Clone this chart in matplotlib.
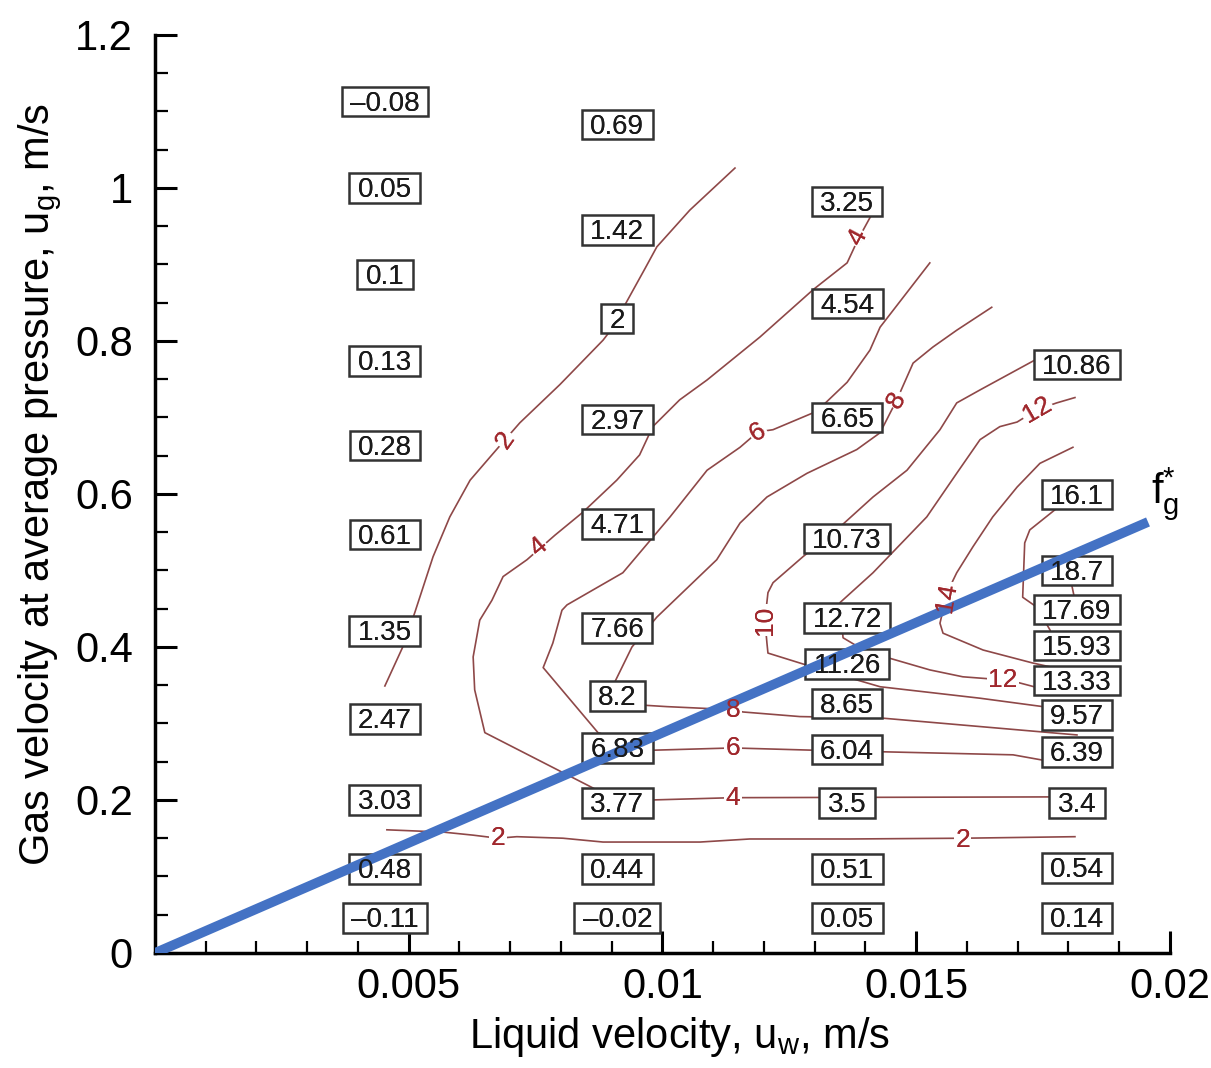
import matplotlib
matplotlib.use("Agg")
import matplotlib.pyplot as plt
from matplotlib.path import Path

plt.rcParams['font.family'] = ['Liberation Sans', 'DejaVu Sans']
plt.rcParams['mathtext.fontset'] = 'custom'
plt.rcParams['mathtext.rm'] = 'Liberation Sans'

# measured friction values, one column per liquid velocity
col_x = [0.00453, 0.00911, 0.01364, 0.01817]
col1_y = [1.110, 0.997, 0.884, 0.771, 0.660, 0.544, 0.418, 0.303, 0.197, 0.107, 0.043]
col1_v = [-0.08, 0.05, 0.1, 0.13, 0.28, 0.61, 1.35, 2.47, 3.03, 0.48, -0.11]
col2_y = [1.080, 0.942, 0.826, 0.694, 0.558, 0.422, 0.333, 0.265, 0.193, 0.107, 0.043]
col2_v = [0.69, 1.42, 2, 2.97, 4.71, 7.66, 8.2, 6.83, 3.77, 0.44, -0.02]
col3_y = [0.979, 0.846, 0.697, 0.539, 0.435, 0.375, 0.323, 0.263, 0.193, 0.107, 0.043]
col3_v = [3.25, 4.54, 6.65, 10.73, 12.72, 11.26, 8.65, 6.04, 3.5, 0.51, 0.05]
col4_y = [0.766, 0.596, 0.497, 0.446, 0.399, 0.353, 0.308, 0.260, 0.193, 0.108, 0.043]
col4_v = [10.86, 16.1, 18.7, 17.69, 15.93, 13.33, 9.57, 6.39, 3.4, 0.54, 0.14]

# iso-lines of the interpolated field
c2a_x = [0.00453, 0.00489, 0.00512, 0.00548, 0.00581, 0.00621, 0.00660, 0.00690, 0.00719,
         0.00798, 0.00883, 0.00912, 0.00926, 0.00966, 0.00989, 0.01054, 0.01143]
c2a_y = [0.349, 0.401, 0.445, 0.518, 0.570, 0.618, 0.648, 0.671, 0.693,
         0.743, 0.801, 0.826, 0.847, 0.895, 0.923, 0.971, 1.026]
c2b_x = [0.00457, 0.00568, 0.00627, 0.00676, 0.00713, 0.00804, 0.00883, 0.01074, 0.01172,
         0.01369, 0.01592, 0.01813]
c2b_y = [0.161, 0.158, 0.154, 0.150, 0.152, 0.150, 0.145, 0.145, 0.149, 0.149, 0.150, 0.152]
c4_x = [0.01767, 0.01139, 0.00979, 0.00871, 0.00650, 0.00630, 0.00627, 0.00640, 0.00664,
        0.00686, 0.00733, 0.00788, 0.00843, 0.00910, 0.00955, 0.00981, 0.01034, 0.01088,
        0.01192, 0.01297, 0.01364, 0.01385, 0.01413]
c4_y = [0.204, 0.203, 0.200, 0.213, 0.288, 0.344, 0.387, 0.435, 0.461, 0.492, 0.514, 0.546,
        0.576, 0.618, 0.651, 0.688, 0.723, 0.749, 0.805, 0.867, 0.902, 0.932, 0.966]
c6_x = [0.01750, 0.01691, 0.01433, 0.01300, 0.01139, 0.00979, 0.00873, 0.00765, 0.00784,
        0.00802, 0.00812, 0.00922, 0.01015, 0.01088, 0.01153, 0.01188, 0.01218, 0.01304,
        0.01364, 0.01409, 0.01429, 0.01527]
c6_y = [0.252, 0.259, 0.263, 0.265, 0.268, 0.265, 0.288, 0.373, 0.405, 0.448, 0.455, 0.497,
        0.570, 0.631, 0.661, 0.681, 0.684, 0.708, 0.746, 0.788, 0.818, 0.902]
c8_x = [0.01817, 0.01433, 0.01271, 0.01159, 0.01139, 0.01074, 0.01009, 0.00960, 0.00906,
        0.00940, 0.00989, 0.01107, 0.01153, 0.01206, 0.01285, 0.01383, 0.01429, 0.01442,
        0.01462, 0.01494, 0.01533, 0.01580, 0.01649]
c8_y = [0.285, 0.307, 0.309, 0.315, 0.318, 0.320, 0.322, 0.324, 0.354, 0.400, 0.439, 0.514,
        0.562, 0.596, 0.627, 0.658, 0.680, 0.697, 0.723, 0.771, 0.792, 0.814, 0.844]
c10_x = [0.01750, 0.01626, 0.01429, 0.01300, 0.01271, 0.01208, 0.01206, 0.01202, 0.01208,
         0.01218, 0.01277, 0.01350, 0.01415, 0.01482, 0.01547, 0.01580, 0.01626, 0.01734]
c10_y = [0.322, 0.333, 0.348, 0.373, 0.379, 0.392, 0.405, 0.435, 0.471, 0.484, 0.518, 0.557,
         0.596, 0.631, 0.684, 0.719, 0.736, 0.775]
c12_x = [0.01744, 0.01704, 0.01671, 0.01592, 0.01527, 0.01444, 0.01389, 0.01356, 0.01350,
         0.01415, 0.01521, 0.01580, 0.01626, 0.01665, 0.01699, 0.01738, 0.01777, 0.01813]
c12_y = [0.346, 0.353, 0.357, 0.361, 0.370, 0.386, 0.399, 0.412, 0.458, 0.497, 0.570, 0.627,
         0.671, 0.688, 0.694, 0.710, 0.719, 0.726]
c14_x = [0.01764, 0.01730, 0.01632, 0.01553, 0.01547, 0.01561, 0.01580, 0.01612, 0.01651,
         0.01699, 0.01744, 0.01809]
c14_y = [0.374, 0.379, 0.396, 0.418, 0.431, 0.471, 0.497, 0.531, 0.570, 0.609, 0.640, 0.661]
c16_x = [0.01773, 0.01724, 0.01714, 0.01710, 0.01738, 0.01764, 0.01773]
c16_y = [0.579, 0.553, 0.536, 0.465, 0.452, 0.422, 0.396]
c18_x = [0.01807, 0.01813]
c18_y = [0.480, 0.461]

# contour level labels: text, x, y, rotation
lab_text = ["2", "4", "2", "2", "4", "6", "8", "4", "6", "8", "10", "12", "12", "14"]
lab_x = [0.00690, 0.00755, 0.00676, 0.01592, 0.01139, 0.01139, 0.01139, 0.01385, 0.01188,
         0.01462, 0.01202, 0.01738, 0.01671, 0.01561]
lab_y = [0.671, 0.531, 0.150, 0.148, 0.203, 0.268, 0.318, 0.935, 0.681, 0.723, 0.435, 0.710,
         0.357, 0.465]
lab_rot = [55, 40, 0, 0, 0, 0, 0, 62, 30, 60, 90, 30, 0, 80]

# f_g* line
fg_x = [0.0, 0.01957]
fg_y = [0.0, 0.5634]

line_col = '#8e4848'
lab_col = '#a0282d'
blue = '#4472c4'


def value_box(x0, y0, width, height, mutation_size):
    # wide on the sides, snug above and below the digits
    px = 0.3 * mutation_size
    left, right = x0 - px, x0 + width + px
    bottom, top = y0 + 0.02 * mutation_size, y0 + height + 0.14 * mutation_size
    verts = [(left, bottom), (right, bottom), (right, top), (left, top), (left, bottom)]
    return Path(verts, closed=True)


fig = plt.figure(figsize=(12.11, 10.68), dpi=100)
ax = fig.add_axes([0.128, 0.1077, 0.838, 0.8596])

for cx, cy in [(c2a_x, c2a_y), (c2b_x, c2b_y), (c4_x, c4_y), (c6_x, c6_y), (c8_x, c8_y),
               (c10_x, c10_y), (c12_x, c12_y), (c14_x, c14_y), (c16_x, c16_y), (c18_x, c18_y)]:
    ax.plot(cx, cy, color=line_col, lw=1.2, zorder=2)

for t, x, y, r in zip(lab_text, lab_x, lab_y, lab_rot):
    ax.text(x, y, t, rotation=r, ha='center', va='center', fontsize=19, color=lab_col,
            bbox=dict(boxstyle='square,pad=0.05', fc='white', ec='none'), zorder=3)
    ax.text(x, y, t, rotation=r, ha='center', va='center', fontsize=19, color=lab_col, zorder=7)

ax.plot(fg_x, fg_y, color=blue, lw=7, solid_capstyle='butt', zorder=5)
ax.text(0.0199, 0.60, r'$\mathregular{f}_{\mathregular{g}}^{*}$', fontsize=30,
        ha='center', va='center', clip_on=False)

cols_y = [col1_y, col2_y, col3_y, col4_y]
cols_v = [col1_v, col2_v, col3_v, col4_v]
for x, ys, vs in zip(col_x, cols_y, cols_v):
    for y, v in zip(ys, vs):
        s = f"{v:g}".replace('-', '\u2013')
        ax.text(x, y, s, ha='center', va='center', fontsize=20, color='#1a1a1a',
                bbox=dict(boxstyle=value_box, fc='white', ec='#333333', lw=1.8),
                zorder=4)
        ax.text(x, y, s, ha='center', va='center', fontsize=20, color='#1a1a1a', zorder=6)

ax.set_xlim(0, 0.02)
ax.set_ylim(0, 1.2)
ax.spines['top'].set_visible(False)
ax.spines['right'].set_visible(False)
ax.spines['left'].set_linewidth(2.5)
ax.spines['bottom'].set_linewidth(2.5)

ax.set_xticks([0.005, 0.01, 0.015, 0.02])
ax.set_xticklabels(["0.005", "0.01", "0.015", "0.02"])
ax.set_xticks([i * 0.001 for i in range(1, 20)], minor=True)
ax.set_yticks([0, 0.2, 0.4, 0.6, 0.8, 1.0, 1.2])
ax.set_yticklabels(["0", "0.2", "0.4", "0.6", "0.8", "1", "1.2"])
ax.set_yticks([i * 0.05 for i in range(1, 24)], minor=True)
ax.tick_params(which='both', direction='in', labelsize=30, width=2.2)
ax.tick_params(axis='x', pad=10)
ax.tick_params(axis='y', pad=16)
ax.tick_params(which='major', length=16)
ax.tick_params(which='minor', length=9, width=1.6)

ax.set_xlabel(r"Liquid velocity, u$_{\mathregular{w}}$, m/s", fontsize=30)
ax.set_ylabel(r"Gas velocity at average pressure, u$_{\mathregular{g}}$, m/s", fontsize=30)
ax.xaxis.set_label_coords(0.517, -0.068)
ax.yaxis.set_label_coords(-0.09, 0.51)

fig.savefig("out.png", dpi=100)
